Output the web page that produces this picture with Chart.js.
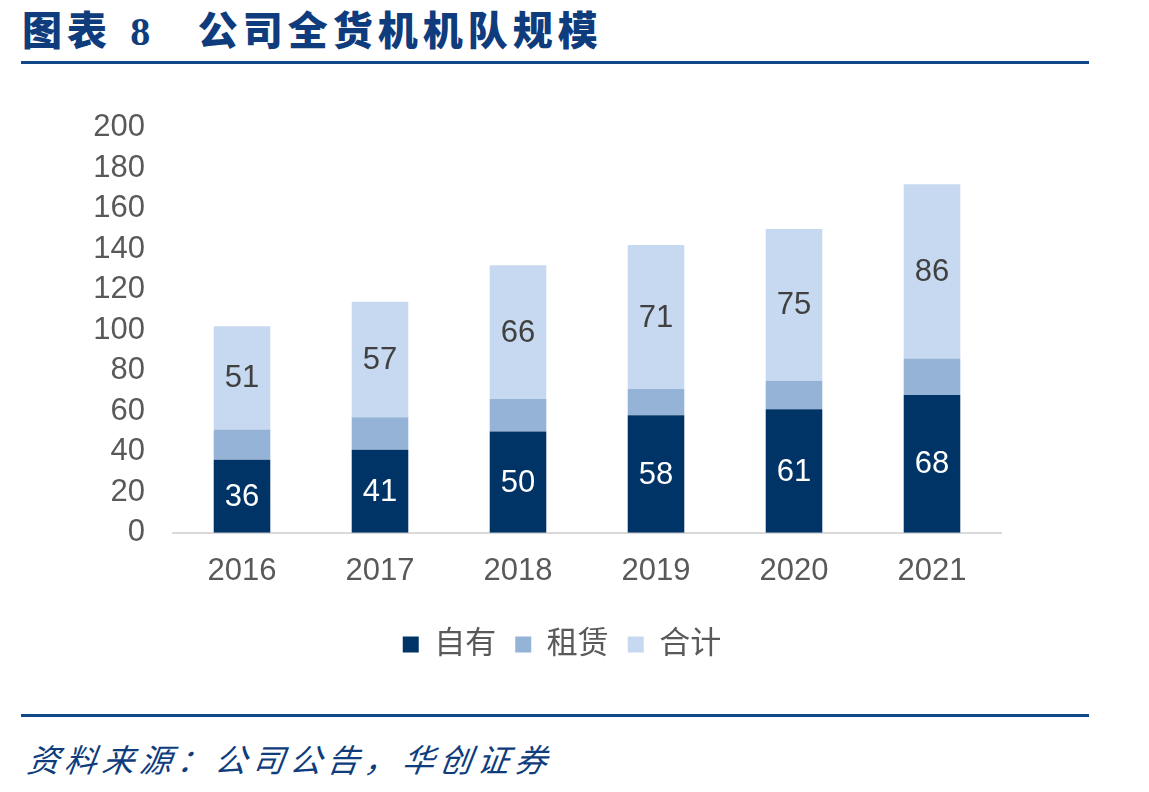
<!DOCTYPE html>
<html>
<head>
<meta charset="utf-8">
<script src="https://cdn.jsdelivr.net/npm/chart.js@4"></script>
<style>
body { margin: 0; width: 1149px; height: 792px; background: #fff; position: relative; overflow: hidden; }
#title {
    position: absolute; left: 22px; top: -1px;
    font-family: "Noto Sans CJK SC", sans-serif; font-weight: 900;
    font-size: 40px; color: #0E3C7C; letter-spacing: 5px; white-space: pre;
}
#title .num { font-family: "Liberation Serif", serif; font-weight: bold; margin-left: 4px; }
.rule { position: absolute; left: 21px; width: 1068px; height: 3px; background: #0F4888; }
#source {
    position: absolute; left: 28px; top: 735px;
    font-family: "Noto Sans CJK SC", sans-serif; font-style: italic;
    font-size: 32px; color: #0E3C7C; letter-spacing: 5.5px; white-space: pre;
    transform: skewX(-8deg);
}
#wrap { position: absolute; left: 0; top: 81px; width: 1149px; height: 599px; }
</style>
</head>
<body>
<div id="title">图表 <span class="num">8</span>   公司全货机机队规模</div>
<div class="rule" style="top: 61px;"></div>
<div id="wrap"><canvas id="fleetChart"></canvas></div>
<div class="rule" style="top: 714px;"></div>
<div id="source">资料来源：公司公告，华创证券</div>

<script>
const years = ["2016", "2017", "2018", "2019", "2020", "2021"];
const owned = [36, 41, 50, 58, 61, 68];
const leased = [15, 16, 16, 13, 14, 18];
const total = [51, 57, 66, 71, 75, 86];
const y_ticks = [0, 20, 40, 60, 80, 100, 120, 140, 160, 180, 200];

const font_family = '"Liberation Sans", Arial, "Noto Sans CJK SC", sans-serif';
const font_size = 31;

// draw numbers in the middle of the 自有 and 合计 segments
const segment_labels = {
    id: 'segment_labels',
    afterDatasetsDraw(chart) {
        const ctx = chart.ctx;
        ctx.save();
        ctx.font = font_size + 'px ' + font_family;
        ctx.textAlign = 'center';
        ctx.textBaseline = 'middle';
        [0, 2].forEach(ds => {
            const meta = chart.getDatasetMeta(ds);
            meta.data.forEach((bar, i) => {
                ctx.fillStyle = ds === 0 ? '#ffffff' : '#404040';
                const mid = (bar.y + bar.base) / 2;
                ctx.fillText(chart.data.datasets[ds].data[i], bar.x, mid + 1);
            });
        });
        ctx.restore();
    }
};

const ctx = document.getElementById('fleetChart').getContext('2d');

const fleetChart = new Chart(ctx, {
    type: 'bar',
    data: {
        labels: years,
        datasets: [
            { label: '自有', data: owned, backgroundColor: '#003366' },
            { label: '租赁', data: leased, backgroundColor: '#95B3D7' },
            { label: '合计', data: total, backgroundColor: '#C6D9F0' }
        ]
    },
    options: {
        responsive: true,
        maintainAspectRatio: false,
        animation: false,
        layout: { padding: { left: 0, right: 25, top: 35, bottom: 10 } },
        datasets: { bar: { barPercentage: 0.41, categoryPercentage: 1.0 } },
        scales: {
            x: {
                stacked: true,
                grid: { display: false, drawTicks: false },
                border: { display: true, color: '#D9D9D9', width: 2 },
                ticks: { color: '#595959', padding: 20, font: { size: font_size, family: font_family } }
            },
            y: {
                stacked: true,
                min: 0,
                max: 200,
                afterBuildTicks: axis => { axis.ticks = y_ticks.map(v => ({ value: v })); },
                afterFit: axis => { axis.width = 173; },
                grid: { display: false, drawTicks: false },
                border: { display: false },
                ticks: { autoSkip: false, color: '#595959', padding: 28, font: { size: font_size, family: font_family } }
            },
            // empty right axis, only there so the legend centres like the original
            spacer: {
                type: 'linear',
                position: 'right',
                afterFit: axis => { axis.width = 123; },
                grid: { display: false, drawTicks: false },
                border: { display: false },
                ticks: { display: false }
            }
        },
        plugins: {
            legend: {
                position: 'bottom',
                labels: {
                    color: '#595959',
                    boxWidth: 16,
                    boxHeight: 16,
                    padding: 19,
                    font: { size: font_size, family: font_family }
                }
            },
            tooltip: { enabled: false }
        }
    },
    plugins: [segment_labels]
});
</script>
</body>
</html>
